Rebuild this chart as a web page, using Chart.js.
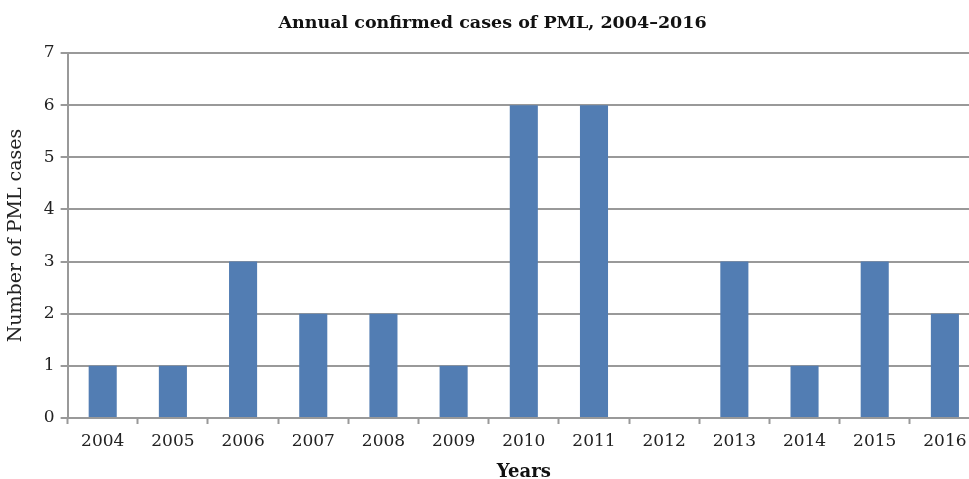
<!DOCTYPE html>
<html>
<head>
<meta charset="utf-8">
<script src="https://cdn.jsdelivr.net/npm/chart.js@4.4.0/dist/chart.umd.min.js"></script>
<style>
    html, body { margin: 0; padding: 0; background: #fff; overflow: hidden; }
    #wrap { position: relative; width: 980px; height: 479px; }
</style>
</head>
<body>
<div id="wrap"><canvas id="pmlChart"></canvas></div>
<script>
const years = ['2004', '2005', '2006', '2007', '2008', '2009', '2010', '2011', '2012', '2013', '2014', '2015', '2016'];
const cases = [1, 1, 3, 2, 2, 1, 6, 6, 0, 3, 1, 3, 2];
const yTicks = [0, 1, 2, 3, 4, 5, 6, 7];

const serif = "'DejaVu Serif', 'Liberation Serif', serif";

const ctx = document.getElementById('pmlChart').getContext('2d');
new Chart(ctx, {
    type: 'bar',
    data: {
        labels: years,
        datasets: [{
            label: 'PML cases',
            data: cases,
            backgroundColor: '#527db3',
            borderWidth: 0,
            barPercentage: 0.4,
            categoryPercentage: 1
        }]
    },
    options: {
        responsive: true,
        maintainAspectRatio: false,
        animation: false,
        layout: { padding: { top: 8, left: 5, right: 0, bottom: -4 } },
        plugins: {
            legend: { display: false },
            tooltip: { enabled: false },
            title: {
                display: true,
                text: 'Annual confirmed cases of PML, 2004\u20132016',
                color: '#111',
                font: { family: serif, size: 17.5, weight: 'bold' },
                padding: { top: 5, bottom: 19 }
            }
        },
        scales: {
            x: {
                offset: true,
                grid: {
                    offset: true,
                    drawOnChartArea: false,
                    color: '#999',
                    tickLength: 6,
                    tickWidth: 2
                },
                border: { color: '#999', width: 2 },
                ticks: {
                    color: '#222',
                    font: { family: serif, size: 17 },
                    padding: 7,
                    maxRotation: 0
                },
                title: {
                    display: true,
                    text: 'Years',
                    color: '#111',
                    font: { family: serif, size: 18, weight: 'bold' },
                    padding: { top: 3, bottom: 0 }
                }
            },
            y: {
                min: 0,
                max: 7,
                afterBuildTicks: axis => {
                    axis.ticks = yTicks.map(v => ({ value: v }));
                },
                grid: {
                    color: '#999',
                    lineWidth: 2,
                    tickLength: 7
                },
                border: { color: '#999', width: 2 },
                ticks: {
                    color: '#222',
                    font: { family: serif, size: 17 },
                    padding: 6
                },
                title: {
                    display: true,
                    text: 'Number of PML cases',
                    color: '#222',
                    font: { family: serif, size: 19 },
                    padding: { top: 0, bottom: 10 }
                }
            }
        }
    }
});
</script>
</body>
</html>
